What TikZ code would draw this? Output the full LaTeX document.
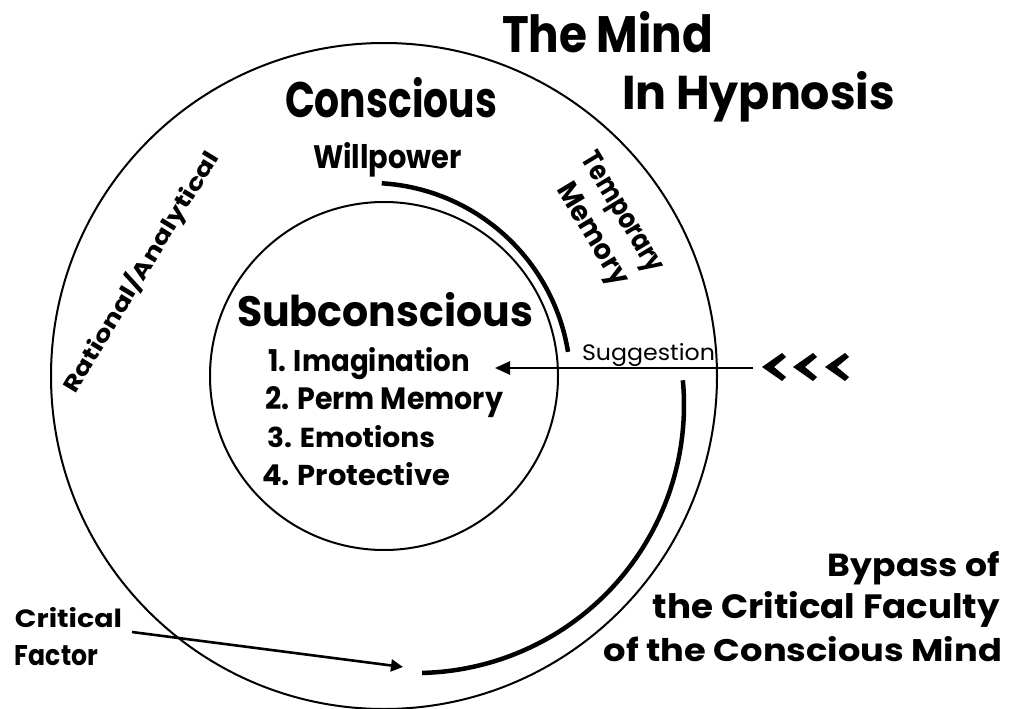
\documentclass[tikz,border=0pt]{standalone}
\usepackage{fontspec}
\usepackage{graphicx}
\setmainfont{Poppins}
\usetikzlibrary{arrows.meta}
\newcommand\fitbox[3]{\resizebox{#1pt}{#2pt}{#3}}
\tikzset{
  txt/.style={inner sep=0pt, outer sep=0pt, font=\bfseries},
  plain/.style={inner sep=0pt, outer sep=0pt, font=\mdseries},
  ring/.style={circle, draw, line width=2pt, inner sep=0pt},
  bigarc/.style={line width=4.5pt},
  pointer/.style={line width=2.6pt},
  chev/.pic={\fill (0,0) -- (20,-14) -- (24,-10) -- (12,0) -- (24,10) -- (20,14) -- cycle;}
}
\begin{document}
\begin{tikzpicture}[x=1pt,y=-1pt]
\useasboundingbox (0,0) rectangle (1012,709);
\fill[white] (0,0) rectangle (1012,709);

% circles
\node[ring, minimum size=666pt] (outer) at (384,376) {};
\node[ring, minimum size=348pt] (inner) at (384,376) {};

% titles
\node[txt, anchor=base west] (mind) at (502,53) {\fitbox{211}{41}{The Mind}};
\node[txt, anchor=base west] (hyp) at (622,110) {\fitbox{273}{38}{In Hypnosis}};

% conscious area
\node[txt, anchor=base west] (consc) at (285,117) {\fitbox{212}{40}{Conscious}};
\node[txt, anchor=base west] (will) at (313,168) {\fitbox{149}{26}{Willpower}};
\node[txt, rotate=58.7] (rational) at (141,272) {\fitbox{278}{21}{Rational/Analytical}};
\node[txt, rotate=-59, align=left, font=\bfseries\fontsize{10}{37}\selectfont] (tempmem) at (605,223)
  {\fitbox{135}{20}{Temporary}\\\hspace*{14pt}\fitbox{114}{20}{Memory}};

% subconscious
\node[txt, anchor=base west] (sub) at (237,326) {\fitbox{296}{34}{Subconscious}};
\node[txt, anchor=base west] (item1) at (268,371) {\fitbox{202}{24}{1. Imagination}};
\node[txt, anchor=base west] (item2) at (265,409) {\fitbox{238}{23}{2. Perm Memory}};
\node[txt, anchor=base west] (item3) at (267,447) {\fitbox{168}{22}{3. Emotions}};
\node[txt, anchor=base west] (item4) at (262,485) {\fitbox{188}{23}{4. Protective}};

% suggestion
\node[plain, anchor=base west] (sugg) at (582,360) {\fitbox{133}{17}{Suggestion}};
\coordinate (sugstart) at (753,368);
\coordinate (sugtip) at (495,368);
\draw[pointer, -{Triangle[length=15pt,width=13pt]}] (sugstart) -- (sugtip);
\pic at (762,367) {chev};
\pic at (793,367) {chev};
\pic at (825,367) {chev};

% arcs
\coordinate (wpc) at (369.5,384);
\draw[bigarc] ([shift={(-86.5:201.1)}]wpc) arc[start angle=-86.5, end angle=-9.2, radius=201.1];
\coordinate (bpc) at (416,405);
\draw[bigarc] ([shift={(-5.3:268)}]bpc) arc[start angle=-5.3, end angle=88.7, radius=268];

% critical factor
\node[txt, anchor=base west] (crit) at (15,627) {\fitbox{107}{20}{Critical}};
\node[txt, anchor=base west] (fact) at (15,665) {\fitbox{83}{20}{Factor}};
\coordinate (critstart) at (132,632);
\coordinate (crittip) at (403,667);
\draw[pointer, -{Triangle[length=12pt,width=12pt]}] (critstart) -- (crittip);

% bypass text
\node[txt, anchor=base east] (by1) at (1000,576) {\fitbox{172}{25}{Bypass of}};
\node[txt, anchor=base east] (by2) at (1000,618) {\fitbox{347}{27}{the Critical Faculty}};
\node[txt, anchor=base east] (by3) at (1002,661) {\fitbox{398}{25}{of the Conscious Mind}};
\end{tikzpicture}
\end{document}
